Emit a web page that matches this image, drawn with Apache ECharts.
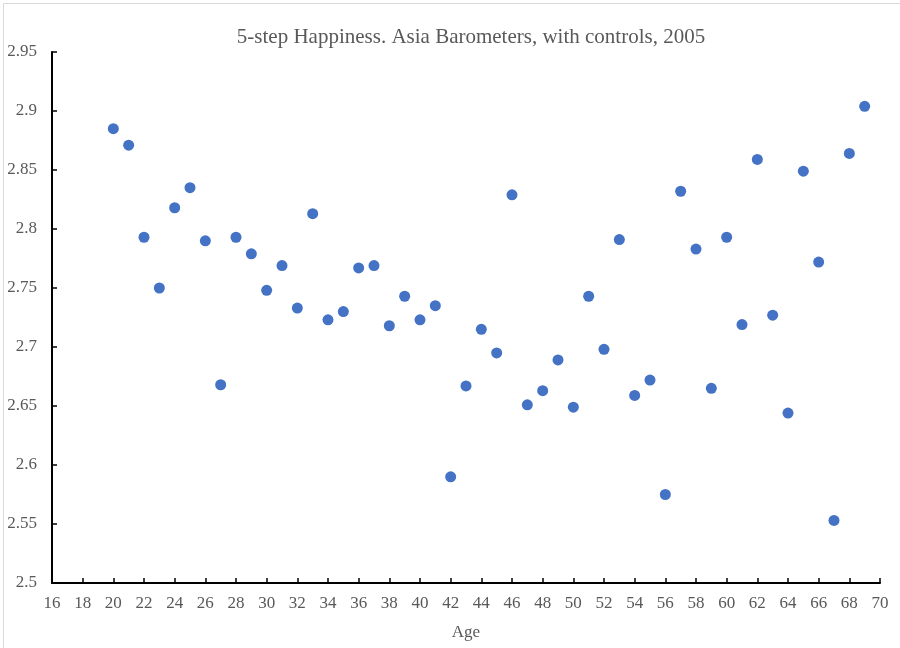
<!DOCTYPE html>
<html>
<head>
<meta charset="utf-8">
<script src="https://cdn.jsdelivr.net/npm/echarts@6/dist/echarts.min.js"></script>
<style>html,body{margin:0;padding:0;background:#fff}#c{width:900px;height:648px}</style>
</head>
<body>
<div id="c"></div>
<script>
const ages = [20,21,22,23,24,25,26,27,28,29,30,31,32,33,34,35,36,37,38,39,40,41,42,43,44,45,46,47,48,49,50,51,52,53,54,55,56,57,58,59,60,61,62,63,64,65,66,67,68,69];
const happiness = [2.885,2.871,2.793,2.750,2.818,2.835,2.790,2.668,2.793,2.779,2.748,2.769,2.733,2.813,2.723,2.730,2.767,2.769,2.718,2.743,2.723,2.735,2.590,2.667,2.715,2.695,2.829,2.651,2.663,2.689,2.649,2.743,2.698,2.791,2.659,2.672,2.575,2.832,2.783,2.665,2.793,2.719,2.859,2.727,2.644,2.849,2.772,2.553,2.864,2.904];
const titleText = '5-step Happiness. Asia Barometers, with controls, 2005';
const xName = 'Age';

const points = ages.map((a, i) => [a, happiness[i]]);
const serif = '"Liberation Serif", "Times New Roman", serif';
const gray = '#595959';

const chart = echarts.init(document.getElementById('c'));
chart.setOption({
  animation: false,
  backgroundColor: '#fff',
  title: {
    text: titleText,
    left: 466, top: 22, textAlign: 'center',
    textStyle: { fontFamily: serif, fontSize: 21, fontWeight: 'normal', color: gray }
  },
  graphic: [{
    type: 'rect', shape: { x: 3.5, y: 3.5, width: 920, height: 680 },
    style: { fill: 'none', stroke: '#d9d9d9', lineWidth: 1 }, silent: true
  }],
  grid: { left: 52, right: 20, top: 52, bottom: 65, outerBoundsMode: 'none', containLabel: false },
  xAxis: {
    type: 'value', min: 16, max: 70, interval: 2,
    name: xName, nameLocation: 'middle', nameGap: 41,
    nameTextStyle: { fontFamily: serif, fontSize: 17, color: gray },
    axisLine: { show: true, lineStyle: { color: '#000', width: 2 } },
    axisTick: { show: true, inside: true, length: 5, lineStyle: { color: '#000', width: 1.5 } },
    axisLabel: { fontFamily: serif, fontSize: 17, color: gray, margin: 12 },
    splitLine: { show: false }
  },
  yAxis: {
    type: 'value', min: 2.5, max: 2.95, interval: 0.05,
    axisLine: { show: true, lineStyle: { color: '#000', width: 2 } },
    axisTick: { show: true, inside: true, length: 5, lineStyle: { color: '#000', width: 1.5 } },
    axisLabel: { fontFamily: serif, fontSize: 17, color: gray, margin: 15,
      formatter: v => String(+v.toFixed(2)) },
    splitLine: { show: false }
  },
  series: [{
    type: 'scatter', data: points, symbol: 'circle', symbolSize: 11,
    itemStyle: { color: '#4472C4', opacity: 1 }
  }]
});
</script>
</body>
</html>
